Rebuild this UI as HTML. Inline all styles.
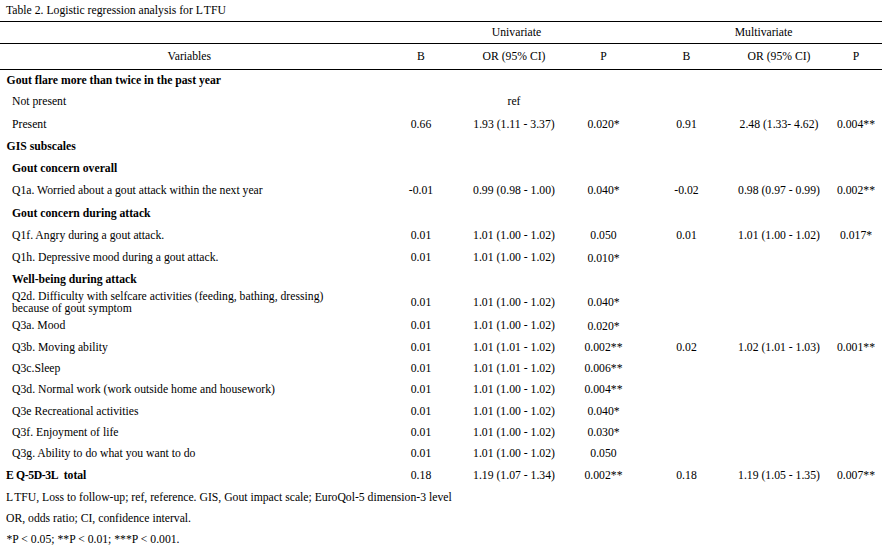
<!DOCTYPE html><html><head><meta charset="utf-8"><style>
html,body{margin:0;padding:0;background:#fff;}
body{width:892px;height:554px;position:relative;overflow:hidden;font-family:"Liberation Serif",serif;font-size:11.7px;color:#000;}
.t{position:absolute;white-space:pre;line-height:14px;height:14px;}
.c{text-align:center;width:200px;}
.b{font-weight:bold;}
.ln{position:absolute;left:0;width:882px;height:1px;background:#000;}
</style></head><body>

<div class="ln" style="top:21px"></div>
<div class="ln" style="top:43px"></div>
<div class="ln" style="top:69px"></div>
<div class="t" style="left:6.00px;top:4.00px">Table 2. Logistic regression analysis for <span style="letter-spacing:1px">L</span>TFU</div>
<div class="t c" style="left:416.50px;top:26.00px">Univariate</div>
<div class="t c" style="left:663.60px;top:26.00px">Multivariate</div>
<div class="t c" style="left:89.30px;top:50.00px">Variables</div>
<div class="t c" style="left:321.00px;top:50.00px">B</div>
<div class="t c" style="left:414.00px;top:50.00px">OR (95% CI)</div>
<div class="t c" style="left:503.50px;top:50.00px">P</div>
<div class="t c" style="left:586.50px;top:50.00px">B</div>
<div class="t c" style="left:679.00px;top:50.00px">OR (95% CI)</div>
<div class="t c" style="left:756.00px;top:50.00px">P</div>
<div class="t b" style="left:6.60px;top:74.00px">Gout flare more than twice in the past year</div>
<div class="t" style="left:12.00px;top:95.00px">Not present</div>
<div class="t c" style="left:414.00px;top:95.00px">ref</div>
<div class="t" style="left:12.00px;top:118.00px">Present</div>
<div class="t c" style="left:321.00px;top:118.00px">0.66</div>
<div class="t c" style="left:414.00px;top:118.00px">1.93 (1.11 - 3.37)</div>
<div class="t c" style="left:503.50px;top:118.00px">0.020*</div>
<div class="t c" style="left:586.50px;top:118.00px">0.91</div>
<div class="t c" style="left:679.00px;top:118.00px">2.48 (1.33- 4.62)</div>
<div class="t c" style="left:756.00px;top:118.00px">0.004**</div>
<div class="t b" style="left:6.60px;top:140.00px">GIS subscales</div>
<div class="t b" style="left:12.00px;top:162.00px">Gout concern overall</div>
<div class="t" style="left:12.00px;top:184.00px">Q1a. Worried about a gout attack within the next year</div>
<div class="t c" style="left:321.00px;top:184.00px">-0.01</div>
<div class="t c" style="left:414.00px;top:184.00px">0.99 (0.98 - 1.00)</div>
<div class="t c" style="left:503.50px;top:184.00px">0.040*</div>
<div class="t c" style="left:586.50px;top:184.00px">-0.02</div>
<div class="t c" style="left:679.00px;top:184.00px">0.98 (0.97 - 0.99)</div>
<div class="t c" style="left:756.00px;top:184.00px">0.002**</div>
<div class="t b" style="left:12.00px;top:207.00px">Gout concern during attack</div>
<div class="t" style="left:12.00px;top:229.00px">Q1f. Angry during a gout attack.</div>
<div class="t c" style="left:321.00px;top:229.00px">0.01</div>
<div class="t c" style="left:414.00px;top:229.00px">1.01 (1.00 - 1.02)</div>
<div class="t c" style="left:503.50px;top:229.00px">0.050</div>
<div class="t c" style="left:586.50px;top:229.00px">0.01</div>
<div class="t c" style="left:679.00px;top:229.00px">1.01 (1.00 - 1.02)</div>
<div class="t c" style="left:756.00px;top:229.00px">0.017*</div>
<div class="t" style="left:12.00px;top:251.00px">Q1h. Depressive mood during a gout attack.</div>
<div class="t c" style="left:321.00px;top:251.00px">0.01</div>
<div class="t c" style="left:414.00px;top:251.00px">1.01 (1.00 - 1.02)</div>
<div class="t c" style="left:503.50px;top:252.00px">0.010*</div>
<div class="t b" style="left:12.00px;top:273.00px">Well-being during attack</div>
<div class="t" style="left:12.00px;top:290.00px">Q2d. Difficulty with selfcare activities (feeding, bathing, dressing)</div>
<div class="t" style="left:12.00px;top:302.00px">because of gout symptom</div>
<div class="t c" style="left:321.00px;top:296.00px">0.01</div>
<div class="t c" style="left:414.00px;top:296.00px">1.01 (1.00 - 1.02)</div>
<div class="t c" style="left:503.50px;top:296.00px">0.040*</div>
<div class="t" style="left:12.00px;top:319.00px">Q3a. Mood</div>
<div class="t c" style="left:321.00px;top:319.00px">0.01</div>
<div class="t c" style="left:414.00px;top:319.00px">1.01 (1.00 - 1.02)</div>
<div class="t c" style="left:503.50px;top:320.00px">0.020*</div>
<div class="t" style="left:12.00px;top:341.00px">Q3b. Moving ability</div>
<div class="t c" style="left:321.00px;top:341.00px">0.01</div>
<div class="t c" style="left:414.00px;top:341.00px">1.01 (1.01 - 1.02)</div>
<div class="t c" style="left:503.50px;top:341.00px">0.002**</div>
<div class="t c" style="left:586.50px;top:341.00px">0.02</div>
<div class="t c" style="left:679.00px;top:341.00px">1.02 (1.01 - 1.03)</div>
<div class="t c" style="left:756.00px;top:341.00px">0.001**</div>
<div class="t" style="left:12.00px;top:362.00px">Q3c.Sleep</div>
<div class="t c" style="left:321.00px;top:362.00px">0.01</div>
<div class="t c" style="left:414.00px;top:362.00px">1.01 (1.01 - 1.02)</div>
<div class="t c" style="left:503.50px;top:362.00px">0.006**</div>
<div class="t" style="left:12.00px;top:383.00px">Q3d. Normal work (work outside home and housework)</div>
<div class="t c" style="left:321.00px;top:383.00px">0.01</div>
<div class="t c" style="left:414.00px;top:383.00px">1.01 (1.00 - 1.02)</div>
<div class="t c" style="left:503.50px;top:383.00px">0.004**</div>
<div class="t" style="left:12.00px;top:405.00px">Q3e Recreational activities</div>
<div class="t c" style="left:321.00px;top:405.00px">0.01</div>
<div class="t c" style="left:414.00px;top:405.00px">1.01 (1.00 - 1.02)</div>
<div class="t c" style="left:503.50px;top:405.00px">0.040*</div>
<div class="t" style="left:12.00px;top:426.00px">Q3f. Enjoyment of life</div>
<div class="t c" style="left:321.00px;top:426.00px">0.01</div>
<div class="t c" style="left:414.00px;top:426.00px">1.01 (1.00 - 1.02)</div>
<div class="t c" style="left:503.50px;top:426.00px">0.030*</div>
<div class="t" style="left:12.00px;top:447.00px">Q3g. Ability to do what you want to do</div>
<div class="t c" style="left:321.00px;top:447.00px">0.01</div>
<div class="t c" style="left:414.00px;top:447.00px">1.01 (1.00 - 1.02)</div>
<div class="t c" style="left:503.50px;top:447.00px">0.050</div>
<div class="t b" style="left:6.00px;top:469.00px"><span style="letter-spacing:2.3px">E</span><span style="letter-spacing:-0.4px">Q-5D-3L</span><span style="letter-spacing:2.6px"> </span>total</div>
<div class="t c" style="left:321.00px;top:469.00px">0.18</div>
<div class="t c" style="left:414.00px;top:469.00px">1.19 (1.07 - 1.34)</div>
<div class="t c" style="left:503.50px;top:469.00px">0.002**</div>
<div class="t c" style="left:586.50px;top:469.00px">0.18</div>
<div class="t c" style="left:679.00px;top:469.00px">1.19 (1.05 - 1.35)</div>
<div class="t c" style="left:756.00px;top:469.00px">0.007**</div>
<div class="t" style="left:6.00px;top:491.00px"><span style="letter-spacing:1px">L</span>TFU, Loss to follow-up; ref, reference. GIS, Gout impact scale; EuroQol-5 dimension-3 level</div>
<div class="t" style="left:6.00px;top:512.00px">OR, odds ratio; CI, confidence interval.</div>
<div class="t" style="left:6.50px;top:533.00px">*P &lt; 0.05; **P &lt; 0.01; ***P &lt; 0.001.</div>
</body></html>
